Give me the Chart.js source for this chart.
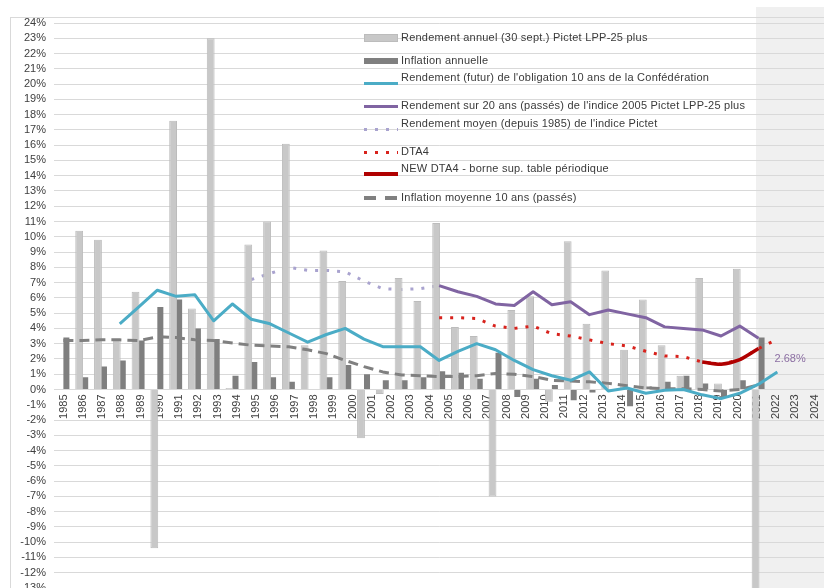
<!DOCTYPE html>
<html>
<head>
<meta charset="utf-8">
<script src="https://cdn.jsdelivr.net/npm/chart.js@4.4.1/dist/chart.umd.min.js"></script>
<style>
  html, body { margin: 0; padding: 0; background: #fff; }
  body { width: 824px; height: 588px; overflow: hidden; position: relative; font-family: 'Liberation Sans', Arial, sans-serif; }
  #shade { position: absolute; left: 756px; top: 7px; width: 68px; height: 581px; background: #f0f0f0; }
  #frame { position: absolute; left: 10px; top: 17px; width: 830px; height: 600px; border-left: 1px solid #d9d9d9; border-top: 1px solid #d9d9d9; }
  #wrap { position: absolute; left: 0; top: 0; width: 833px; height: 610px; }
  .lg-sym { position: absolute; left: 364px; width: 34px; }
  .lg-txt { position: absolute; left: 401px; font-size: 11px; line-height: 13px; letter-spacing: 0.23px; color: #3a3a3a; white-space: nowrap; }
</style>
</head>
<body>
<div id="shade"></div>
<div id="frame"></div>
<div id="wrap"><canvas id="chart" width="833" height="610"></canvas></div>
<div id="legend"></div>
<script>
// ── Data ─────────────────────────────────
const years = [];              // axis labels 1985 → 2024
for (let y = 1985; y <= 2024; y++) years.push(y);
const dataYears = [...years, 2025];   // the series sit on a slightly wider category axis

// annual bars, 1985 → 2024
const annualReturn = [null, 10.4, 9.8, 3.3, 6.4, -10.4, 17.6, 5.3, 23.0, 0.1,
  9.5, 11.0, 16.1, 2.9, 9.1, 7.1, -3.2, -0.3, 7.3, 5.8,
  10.9, 4.1, 3.5, -7.0, 5.2, 6.1, -0.8, 9.7, 4.3, 7.8,
  2.6, 5.9, 2.9, 0.9, 7.3, 0.4, 7.9, -15.0, null, null];
const annualInflation = [3.4, 0.8, 1.5, 1.9, 3.2, 5.4, 5.9, 4.0, 3.3, 0.9,
  1.8, 0.8, 0.5, 0.0, 0.8, 1.6, 1.0, 0.6, 0.6, 0.8,
  1.2, 1.1, 0.7, 2.4, -0.5, 0.7, 0.3, -0.7, -0.2, -0.1,
  -1.1, 0.2, 0.5, 0.9, 0.4, -0.5, 0.6, 3.4, null, null];

// lines: first year + values
const bondStart = 1988;
const bondYield = [4.3, 5.4, 6.5, 6.1, 6.2, 4.5, 5.6, 4.6, 4.3, 3.7,
  3.1, 3.6, 4.0, 3.3, 2.8, 2.8, 2.8, 1.9, 2.5, 3.0,
  2.6, 1.9, 1.3, 0.9, 0.6, 1.15, -0.1, 0.1, -0.25, -0.05,
  0.0, -0.35, -0.6, -0.25, 0.35, 1.15];
const return20Start = 2005;
const return20 = [6.8, 6.4, 6.1, 5.6, 5.5, 6.4, 5.55, 5.75, 4.9, 5.2,
  4.95, 4.7, 4.1, 4.0, 3.9, 3.5, 4.15, 3.35];
const avgReturnStart = 1995;
const avgReturn = [7.2, 7.6, 8.0, 7.8, 7.8, 7.7, 7.1, 6.6, 6.55, 6.6, 6.8];
const dta4Start = 2005;
const dta4 = [4.7, 4.7, 4.65, 4.15, 4.0, 4.15, 3.65, 3.5, 3.25, 3.0,
  2.85, 2.5, 2.2, 2.15, 1.8, 1.65, 1.95, 2.68, 3.3];
const newDta4Start = 2019;
const newDta4 = [1.8, 1.65, 1.95, 2.68];
const avgInflStart = 1985;
const avgInflation = [3.2, 3.2, 3.25, 3.25, 3.2, 3.45, 3.4, 3.25, 3.2, 3.05,
  2.9, 2.85, 2.8, 2.6, 2.35, 1.9, 1.5, 1.15, 0.95, 0.9,
  0.85, 0.85, 0.9, 1.05, 1.0, 0.85, 0.6, 0.55, 0.5, 0.4,
  0.25, 0.1, 0.05, 0.05, 0.0, -0.1, 0.0, 0.3];

const seriesLabels = [
  'Rendement annuel (30 sept.) Pictet LPP-25 plus',
  'Inflation annuelle',
  "Rendement (futur) de l'obligation 10 ans de la Confédération",
  "Rendement sur 20 ans (passés) de l'indice 2005 Pictet LPP-25 plus",
  "Rendement moyen (depuis 1985) de l'indice Pictet",
  'DTA4',
  'NEW DTA4 - borne sup. table périodique',
  'Inflation moyenne 10 ans (passés)'
];

// place a partial series on the full year list
function span(start, values) {
  return dataYears.map(y => {
    const i = y - start;
    return i >= 0 && i < values.length ? values[i] : null;
  });
}

const colors = {
  bar: '#c8c8c8', barEdge: '#bcbcbc', infl: '#7f7f7f',
  teal: '#4bacc6', purple: '#8064a2', lavender: '#a9a3cf',
  red: '#d8221c', darkRed: '#b00000', gray: '#808080'
};

const lineBase = { type: 'line', xAxisID: 'xd', yAxisID: 'y', pointRadius: 0, borderWidth: 3, tension: 0, borderJoinStyle: 'round', spanGaps: false };

const datasets = [
  { ...lineBase, label: seriesLabels[2], data: span(bondStart, bondYield), borderColor: colors.teal, order: 1 },
  { ...lineBase, label: seriesLabels[3], data: span(return20Start, return20), borderColor: colors.purple, order: 1 },
  { ...lineBase, label: seriesLabels[4], data: span(avgReturnStart, avgReturn), borderColor: colors.lavender, borderDash: [3, 8], order: 10 },
  { ...lineBase, label: seriesLabels[5], data: span(dta4Start, dta4), borderColor: colors.red, borderDash: [3, 8], order: 1 },
  { ...lineBase, label: seriesLabels[6], data: span(newDta4Start, newDta4), borderColor: colors.darkRed, borderWidth: 3.5, tension: 0.25, order: 0 },
  { ...lineBase, label: seriesLabels[7], data: span(avgInflStart, avgInflation), borderColor: colors.gray, borderDash: [10, 6], order: 1 },
  { type: 'bar', label: seriesLabels[0], data: annualReturn, xAxisID: 'xd', yAxisID: 'y', backgroundColor: colors.bar, borderColor: colors.barEdge, borderWidth: 1, categoryPercentage: 0.64, barPercentage: 1.3, order: 5 },
  { type: 'bar', label: seriesLabels[1], data: annualInflation, xAxisID: 'xd', yAxisID: 'y', backgroundColor: colors.infl, borderWidth: 0, categoryPercentage: 0.64, barPercentage: 1.0, order: 5 }
];

// value label at the end of NEW DTA4
const endLabel = {
  id: 'endLabel',
  afterDatasetsDraw(chart) {
    const meta = chart.getDatasetMeta(4);
    const last = dataYears.indexOf(newDta4Start + newDta4.length - 1);
    const pt = meta.data[last];
    if (!pt) return;
    const ctx = chart.ctx;
    ctx.save();
    ctx.font = "11px 'Liberation Sans', Arial, sans-serif";
    ctx.fillStyle = '#8c6fa3';
    ctx.textAlign = 'left';
    ctx.textBaseline = 'middle';
    ctx.fillText(newDta4[newDta4.length - 1].toFixed(2) + '%', pt.x + 16, pt.y + 10);
    ctx.restore();
  }
};

const tickFont = { family: "'Liberation Sans', Arial, sans-serif", size: 11 };

new Chart(document.getElementById('chart'), {
  data: { labels: years, datasets },
  options: {
    responsive: false,
    animation: false,
    devicePixelRatio: 1,
    layout: { padding: { left: 10, right: 0, top: 23, bottom: 22 } },
    plugins: { legend: { display: false }, tooltip: { enabled: false } },
    scales: {
      xd: { type: 'category', labels: dataYears, display: false, offset: true },
      x: {
        type: 'category',
        position: { y: 0 },
        offset: true,
        grid: { display: false, drawTicks: false },
        border: { display: false },
        ticks: { autoSkip: false, minRotation: 90, maxRotation: 90, padding: 5, color: '#404040', font: tickFont, callback: (v, i) => String(years[i]) }
      },
      y: {
        min: -13, max: 24,
        // the -1% line sits under the year labels and is hidden there
        grid: { color: c => c.tick && c.tick.value === -1 ? 'rgba(0,0,0,0)' : '#d9d9d9', drawTicks: false },
        border: { display: false },
        ticks: { stepSize: 1, autoSkip: false, padding: 8, color: '#404040', font: tickFont, callback: v => v + '%' },
        afterFit: scale => { scale.width = 44; }
      }
    }
  },
  plugins: [endLabel]
});

// ── Legend (html) ─────────────────────────────────
const legendRows = [37.5, 60.5, 83.3, 106, 129.3, 152.3, 174.3, 197.7];
const textShift = [0, 0, -5, 0, -5, 0, -5, 0];
const symbolStyles = [
  { h: 8, bg: colors.bar, border: '1px solid ' + colors.barEdge },
  { h: 6, bg: colors.infl },
  { h: 3, bg: colors.teal },
  { h: 3, bg: colors.purple },
  { h: 3, bg: `repeating-linear-gradient(to right, ${colors.lavender} 0 3px, transparent 3px 11px)` },
  { h: 3, bg: `repeating-linear-gradient(to right, ${colors.red} 0 3px, transparent 3px 11px)` },
  { h: 4, bg: colors.darkRed },
  { h: 4, bg: `repeating-linear-gradient(to right, ${colors.gray} 0 12px, transparent 12px 21px)` }
];
const legend = document.getElementById('legend');
seriesLabels.forEach((label, i) => {
  const s = symbolStyles[i];
  const sym = document.createElement('div');
  sym.className = 'lg-sym';
  sym.style.top = (legendRows[i] - s.h / 2) + 'px';
  sym.style.height = s.h + 'px';
  sym.style.background = s.bg;
  sym.style.boxSizing = 'border-box';
  if (s.border) sym.style.border = s.border;
  legend.appendChild(sym);
  const txt = document.createElement('div');
  txt.className = 'lg-txt';
  txt.style.top = (legendRows[i] + textShift[i] - 7) + 'px';
  txt.textContent = label;
  legend.appendChild(txt);
});
</script>
</body>
</html>
